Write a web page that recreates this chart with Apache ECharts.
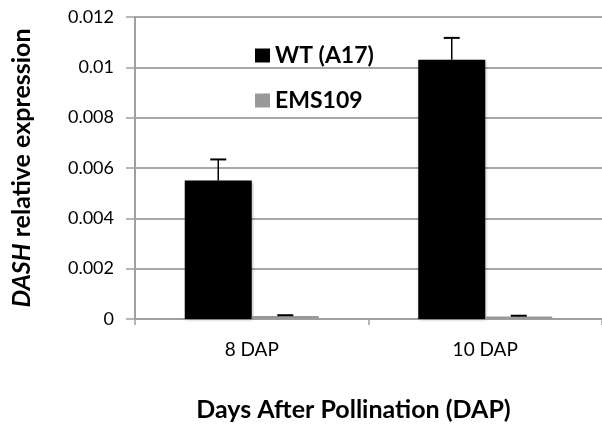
<!DOCTYPE html>
<html>
<head>
<meta charset="utf-8">
<script src="https://cdn.jsdelivr.net/npm/echarts@6/dist/echarts.min.js"></script>
<style>html,body{margin:0;padding:0;background:#fff}#c{width:602px;height:427px}</style>
</head>
<body>
<div id="c"></div>
<script>
const categories = ['8 DAP', '10 DAP'];
const wtValues = [0.0055, 0.0103];
const wtErrors = [0.00084, 0.00087];
const emsValues = [0.00012, 0.0001];
const emsErrors = [0.00003, 0.00003];
const yTicks = [0, 0.002, 0.004, 0.006, 0.008, 0.01, 0.012];

const FONT = 'Lato';
const chart = echarts.init(document.getElementById('c'));

function errorSeries(name, values, errors, offset) {
  return {
    type: 'custom',
    name: name + ' err',
    z: 5,
    silent: true,
    data: values.map((v, i) => [i, v, errors[i]]),
    renderItem: function (params, api) {
      const i = api.value(0), v = api.value(1), e = api.value(2);
      const b = api.coord([i, v]);
      const t = api.coord([i, v + e]);
      const x = b[0] + offset;
      return {
        type: 'group',
        children: [
          { type: 'line', shape: { x1: x, y1: b[1], x2: x, y2: t[1] }, style: { stroke: '#000', lineWidth: 1.5 } },
          { type: 'line', shape: { x1: x - 8, y1: t[1], x2: x + 8, y2: t[1] }, style: { stroke: '#000', lineWidth: 2 } }
        ]
      };
    }
  };
}

chart.setOption({
  animation: false,
  backgroundColor: '#fff',
  textStyle: { fontFamily: FONT },
  grid: { left: 135, top: 17, width: 470, height: 304 },
  legend: {
    orient: 'vertical',
    left: 250,
    top: 39,
    icon: 'rect',
    itemWidth: 15,
    itemHeight: 14,
    itemGap: 22,
    itemStyle: { borderWidth: 0 },
    data: ['WT (A17)', 'EMS109'],
    textStyle: { fontFamily: FONT, fontSize: 23, fontWeight: 'bold', color: '#000', lineHeight: 23 }
  },
  xAxis: {
    type: 'category',
    data: categories,
    name: 'Days After Pollination (DAP)',
    nameLocation: 'middle',
    nameGap: 78,
    nameTextStyle: { fontFamily: FONT, fontSize: 25, fontWeight: 'bold', color: '#000', padding: [0, 30, 0, 0], verticalAlign: 'top' },
    axisLine: { lineStyle: { color: '#a0a0a0', width: 2 } },
    axisTick: { show: true, length: 6, lineStyle: { color: '#a0a0a0', width: 1.5 } },
    axisLabel: { fontFamily: FONT, fontSize: 19, color: '#000', margin: 21 }
  },
  yAxis: {
    type: 'value',
    min: 0,
    max: 0.012,
    interval: 0.002,
    name: '{i|DASH} relative expression',
    nameLocation: 'middle',
    nameGap: 101,
    nameTextStyle: {
      fontFamily: FONT, fontSize: 25, fontWeight: 'bold', color: '#000',
      rich: { i: { fontFamily: FONT, fontSize: 25, fontWeight: 'bold', fontStyle: 'italic', color: '#000' } }
    },
    axisLine: { show: true, lineStyle: { color: '#a0a0a0', width: 2 } },
    axisTick: { show: true, length: 9, lineStyle: { color: '#a0a0a0', width: 1.5 } },
    splitLine: { lineStyle: { color: '#a8a8a8', width: 2 } },
    axisLabel: {
      fontFamily: FONT, fontSize: 18, color: '#000', margin: 21,
      formatter: function (v) {
        const t = yTicks.find(x => Math.abs(x - v) < 1e-9);
        return t === undefined ? '' : String(t);
      }
    }
  },
  series: [
    {
      type: 'bar', name: 'WT (A17)', data: wtValues, barWidth: 67, barGap: '0%',
      itemStyle: { color: '#000', shadowBlur: 3, shadowColor: 'rgba(0,0,0,0.35)', shadowOffsetX: 1, shadowOffsetY: 1 }
    },
    {
      type: 'bar', name: 'EMS109', data: emsValues, barWidth: 67, barGap: '0%',
      itemStyle: { color: '#999999' }
    },
    errorSeries('WT (A17)', wtValues, wtErrors, -33.5),
    errorSeries('EMS109', emsValues, emsErrors, 33.5)
  ]
});
</script>
</body>
</html>
